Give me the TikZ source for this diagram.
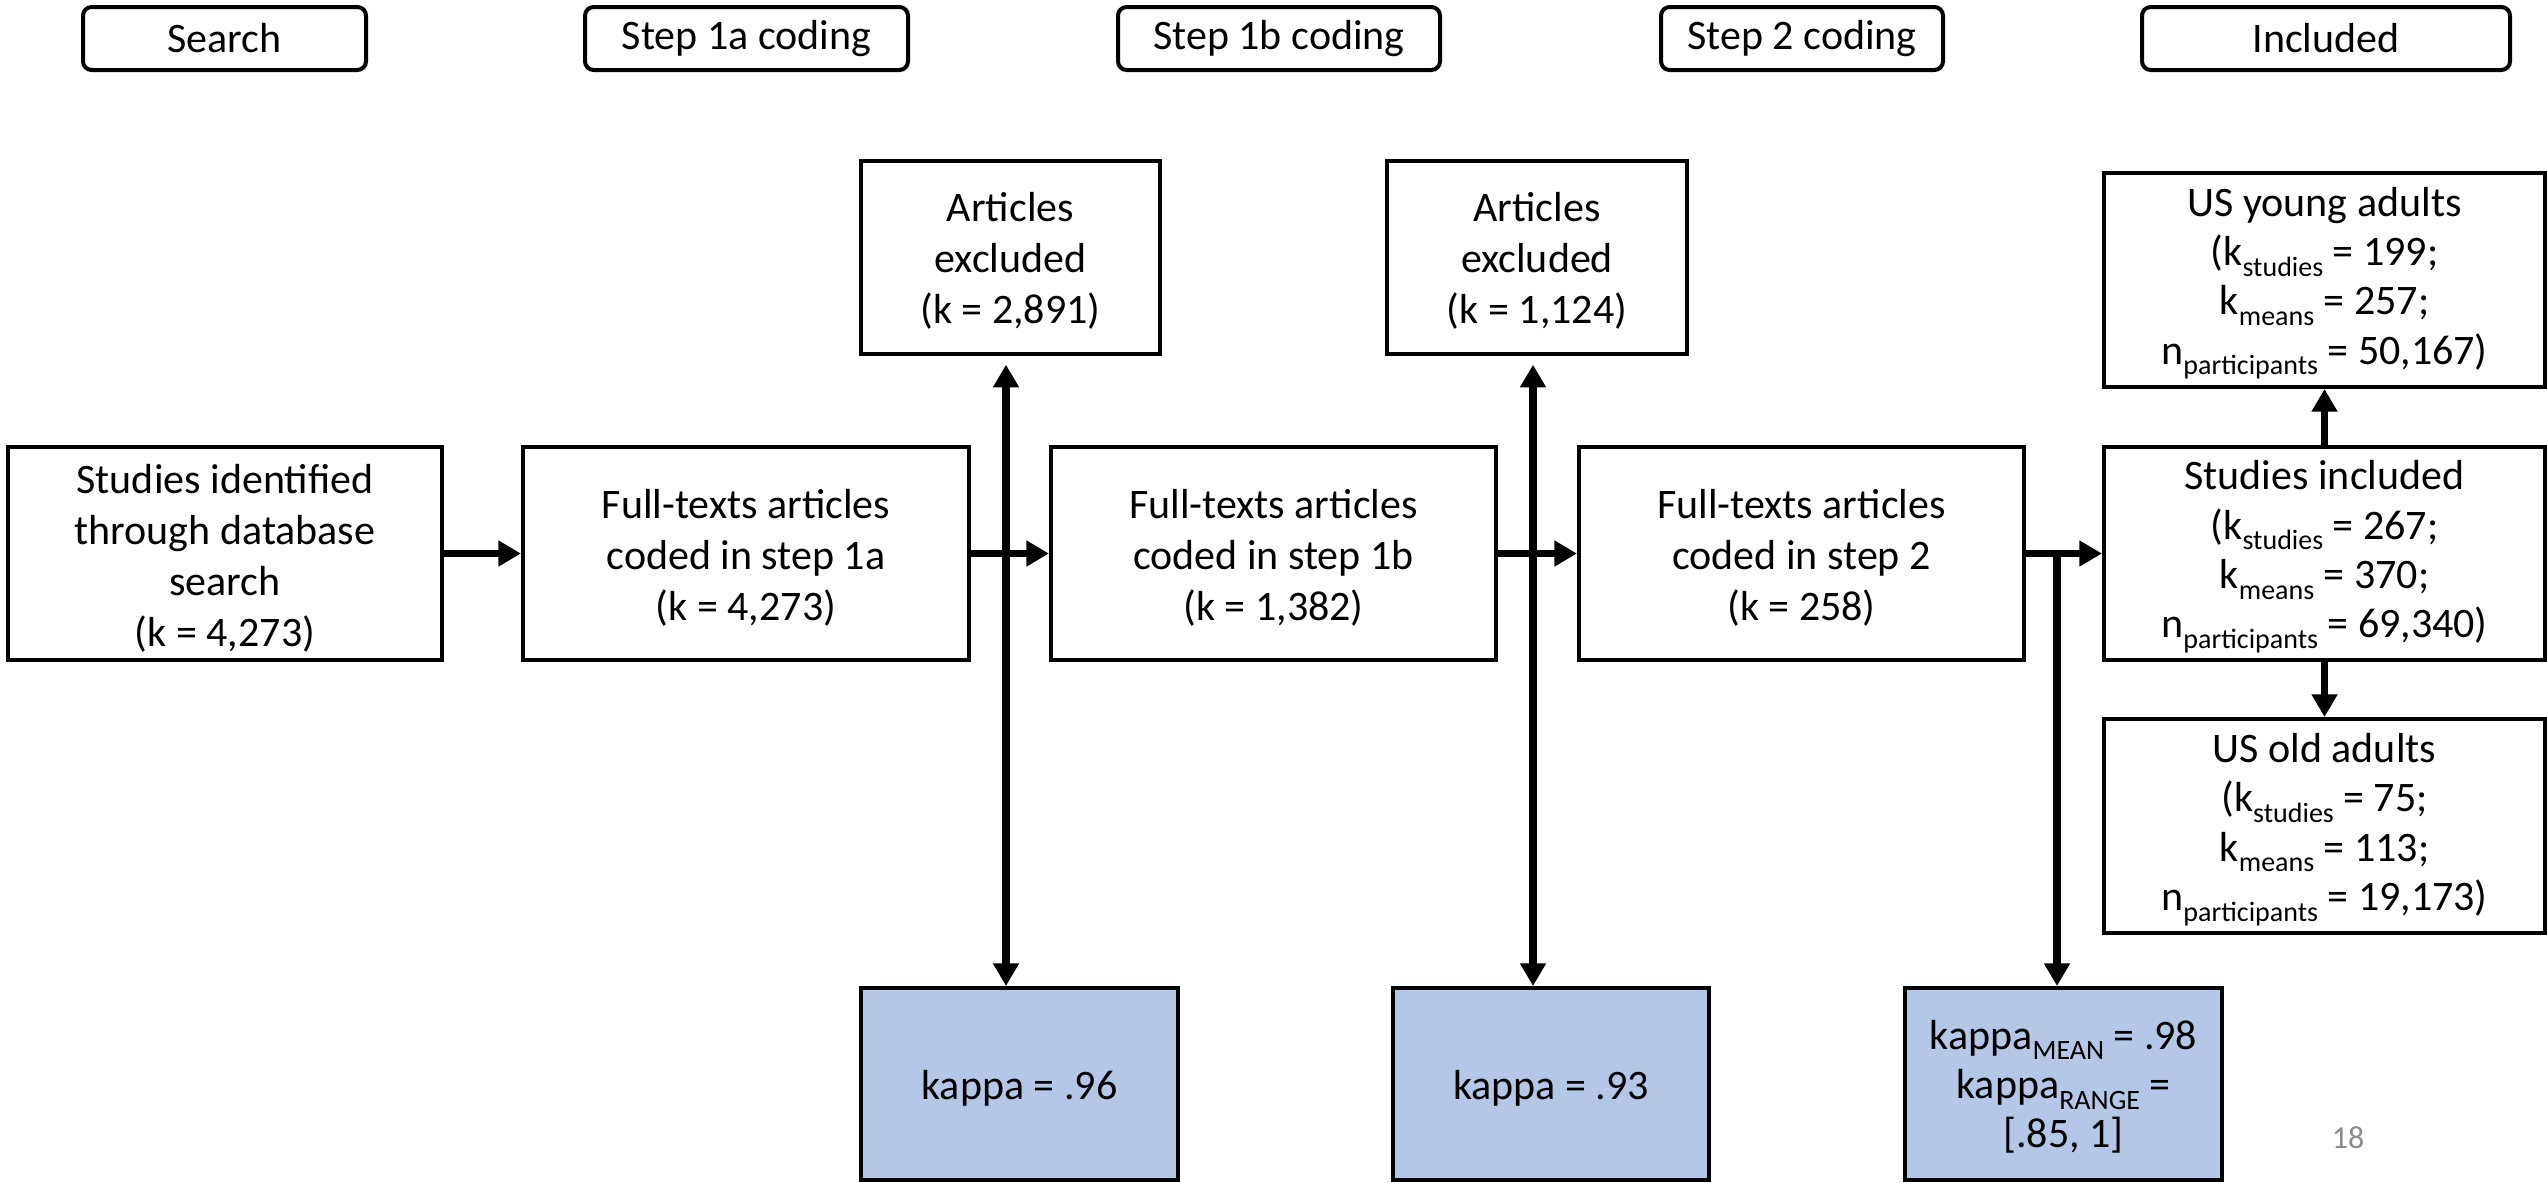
\documentclass[tikz,border=0pt]{standalone}
\usepackage{fontspec}
\setmainfont{Carlito}
\usetikzlibrary{arrows.meta}
\definecolor{kapfill}{HTML}{B4C7E7}
\definecolor{pggray}{HTML}{8C8C8C}
\newcommand\sbs[1]{\raisebox{-3.2pt}{\fontsize{8.4}{9}\selectfont #1}}
\newcommand\bx[8]{\node[#6, minimum width={(#4-#2)*0.3pt}, minimum height={(#5-#3)*0.3pt}] (#1) at ({(#2+#4)/2},{(#3+#5)/2}) {};
  \node[#6tx] (#1-t) at ([yshift=#7]#1.center) {#8};}
\tikzset{
  basebox/.style={draw=black, line width=1.2pt, inner sep=0pt},
  boxtext/.style={inner sep=0pt, align=center, font=\fontsize{12.6}{15.3}\selectfont},
  mainbox/.style={basebox},
  mainboxtx/.style={boxtext},
  subbox/.style={basebox},
  subboxtx/.style={boxtext, font=\fontsize{12.6}{14.8}\selectfont},
  hdrbox/.style={basebox, rounded corners=2.6pt},
  hdrboxtx/.style={boxtext},
  kapbox/.style={basebox, fill=kapfill},
  kapboxtx/.style={boxtext},
  kapsubbox/.style={basebox, fill=kapfill},
  kapsubboxtx/.style={subboxtx},
  arr/.style={line width=2.2pt, -{Triangle[length=6.8pt,width=7.4pt]}},
  darr/.style={line width=2.2pt, {Triangle[length=6.8pt,width=7.4pt]}-{Triangle[length=6.8pt,width=7.4pt]}},
}
\begin{document}
\begin{tikzpicture}[x=0.3pt,y=-0.3pt]
\useasboundingbox (0,0) rectangle (2547,1182);
% headers
\bx{hs}{83}{7}{366}{70}{hdrbox}{0pt}{Search}
\bx{ha}{585}{7}{908}{70}{hdrbox}{0pt}{Step 1a coding}
\bx{hb}{1118}{7}{1440}{70}{hdrbox}{0pt}{Step 1b coding}
\bx{hc}{1661}{7}{1943}{70}{hdrbox}{0pt}{Step 2 coding}
\bx{hd}{2142}{7}{2510}{70}{hdrbox}{0pt}{Included}
% main row
\bx{studies}{8}{447}{442}{660}{mainbox}{-1.3pt}{Studies identified\\through database\\search\\(k = 4,273)}
\bx{fta}{523}{447}{969}{660}{mainbox}{-1.3pt}{Full-texts articles\\coded in step 1a\\(k = 4,273)}
\bx{ftb}{1051}{447}{1496}{660}{mainbox}{-1.3pt}{Full-texts articles\\coded in step 1b\\(k = 1,382)}
\bx{ftc}{1579}{447}{2024}{660}{mainbox}{-1.3pt}{Full-texts articles\\coded in step 2\\(k = 258)}
\bx{incl}{2104}{447}{2545}{660}{subbox}{-1.0pt}{Studies included\\(k\sbs{studies} = 267;\\k\sbs{means} = 370;\\n\sbs{participants} = 69,340)}
% excluded
\bx{exa}{861}{161}{1160}{354}{mainbox}{-1.0pt}{Articles\\excluded\\(k = 2,891)}
\bx{exb}{1387}{161}{1687}{354}{mainbox}{-1.0pt}{Articles\\excluded\\(k = 1,124)}
% subgroups
\bx{young}{2104}{173}{2545}{387}{subbox}{-1.0pt}{US young adults\\(k\sbs{studies} = 199;\\k\sbs{means} = 257;\\n\sbs{participants} = 50,167)}
\bx{old}{2104}{719}{2545}{933}{subbox}{-1.0pt}{US old adults\\(k\sbs{studies} = 75;\\k\sbs{means} = 113;\\n\sbs{participants} = 19,173)}
% kappa
\bx{ka}{861}{988}{1178}{1180}{kapbox}{-1.2pt}{kappa = .96}
\bx{kb}{1393}{988}{1709}{1180}{kapbox}{-1.2pt}{kappa = .93}
\bx{kc}{1905}{988}{2222}{1180}{kapsubbox}{-0.8pt}{kappa\sbs{MEAN} = .98\\kappa\sbs{RANGE} =\\{}[.85, 1]}
% page number
\node[text=pggray, font=\fontsize{9.6}{11}\selectfont] (pg) at (2348,1138) {18};
% connector x positions
\coordinate (xa) at (1006,0);
\coordinate (xb) at (1533,0);
\coordinate (xc) at (2057,0);
% vertical arrows
\draw[darr, shorten <=2.6pt] (exa.south -| xa) -- (ka.north -| xa);
\draw[darr, shorten <=2.6pt] (exb.south -| xb) -- (kb.north -| xb);
\draw[arr] (ftc.east -| xc) -- (kc.north -| xc);
% horizontal arrows
\draw[arr] (studies.east) -- (fta.west);
\draw[arr] (fta.east) -- (ftb.west);
\draw[arr] (ftb.east) -- (ftc.west);
\draw[arr] (ftc.east) -- (incl.west);
% included arrows
\draw[arr] (incl.north) -- (young.south);
\draw[arr] (incl.south) -- (old.north);
\end{tikzpicture}
\end{document}
